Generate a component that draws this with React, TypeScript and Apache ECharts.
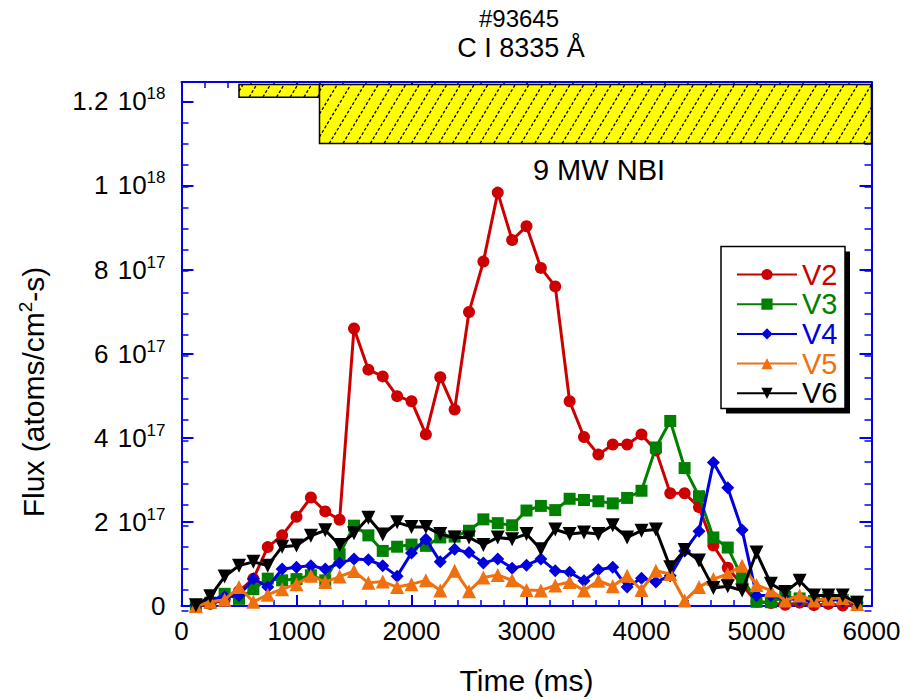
import React, { useEffect, useRef } from 'react';
import * as echarts from 'echarts';

// time of each sample (ms)
const times = [125, 250, 375, 500, 625, 750, 875, 1000, 1125, 1250, 1375, 1500, 1625, 1750, 1875, 2000,
  2125, 2250, 2375, 2500, 2625, 2750, 2875, 3000, 3125, 3250, 3375, 3500, 3625, 3750, 3875, 4000,
  4125, 4250, 4375, 4500, 4625, 4750, 4875, 5000, 5125, 5250, 5375, 5500, 5625, 5750, 5875];

// flux values in units of 1e17 atoms/cm2-s
const v2 = [0.0, 0.05, 0.15, 0.35, 0.65, 1.40, 1.68, 2.12, 2.58, 2.25, 2.05, 6.60, 5.62, 5.46, 4.99, 4.87,
  4.08, 5.44, 4.67, 6.99, 8.19, 9.83, 8.70, 9.03, 8.04, 7.60, 4.87, 4.02, 3.60, 3.84, 3.84, 4.08,
  3.70, 2.68, 2.68, 2.35, 1.44, 0.91, 0.50, 0.10, 0.07, 0.03, 0.08, 0.02, 0.05, 0.01, 0.03];
const v3 = [0.0, 0.08, 0.29, 0.17, 0.40, 0.65, 0.61, 0.64, 0.73, 0.61, 1.23, 1.91, 1.68, 1.31, 1.41, 1.46,
  1.43, 1.63, 1.65, 1.79, 2.06, 1.97, 1.92, 2.27, 2.38, 2.28, 2.55, 2.52, 2.49, 2.44, 2.57, 2.74,
  3.77, 4.40, 3.28, 2.61, 1.63, 1.39, 0.68, 0.10, 0.09, 0.22, 0.18, 0.12, 0.20, 0.14, 0.10];
const v4 = [0.03, 0.15, 0.22, 0.25, 0.65, 0.45, 0.88, 0.92, 0.96, 0.88, 1.02, 1.12, 1.10, 0.96, 0.71, 1.26,
  1.59, 1.05, 1.35, 1.27, 1.02, 1.12, 0.90, 0.97, 1.12, 0.84, 0.80, 0.60, 0.86, 0.92, 0.45, 0.66,
  0.57, 0.72, 1.31, 1.78, 3.41, 2.81, 1.81, 0.25, 0.25, 0.18, 0.15, 0.10, 0.17, 0.12, 0.08];
const v5 = [0.0, 0.10, 0.15, 0.45, 0.10, 0.27, 0.40, 0.52, 0.72, 0.57, 0.70, 0.83, 0.55, 0.58, 0.45, 0.52,
  0.61, 0.37, 0.84, 0.35, 0.68, 0.74, 0.61, 0.38, 0.37, 0.49, 0.57, 0.37, 0.60, 0.47, 0.72, 0.38,
  0.84, 0.76, 0.13, 0.45, 0.64, 0.76, 0.96, 0.50, 0.37, 0.13, 0.25, 0.13, 0.17, 0.19, 0.05];
const v6 = [0.02, 0.23, 0.70, 0.96, 1.05, 0.96, 1.41, 1.44, 1.67, 1.80, 1.45, 1.73, 2.10, 1.70, 1.99, 1.88,
  1.88, 1.71, 1.63, 1.63, 1.45, 1.63, 1.59, 1.71, 1.35, 1.82, 1.71, 1.75, 1.71, 1.92, 1.63, 1.79,
  1.82, 0.92, 1.33, 1.08, 0.43, 0.47, 0.37, 1.27, 0.53, 0.33, 0.60, 0.25, 0.25, 0.25, 0.08];

const seriesNames = ['V2', 'V3', 'V4', 'V5', 'V6'];
const seriesValues = [v2, v3, v4, v5, v6];

// NBI power bars (ms, and 1e17 units)
const nbiStart = [500, 1200];
const nbiEnd = [1200, 6000];
const nbiBottom = [12.1, 11.0];
const nbiTop = [12.4, 12.4];
const nbiLabel = '9 MW NBI';

const FONT = '"Liberation Sans", Arial, Helvetica, sans-serif';
const AXIS_BLUE = '#0000ee';
const colors = ['#cc0000', '#008000', '#0000dd', '#f07010', '#000000'];
const symbols = ['circle', 'rect', 'diamond', 'triangle', 'path://M0,0 L10,0 L5,9 Z'];
const symbolSizes = [12, 12, 13, 14, 14];

export default function App() {
  const ref = useRef<HTMLDivElement>(null);
  useEffect(() => {
    document.body.style.margin = '0';
    const chart = echarts.init(ref.current!, null, { renderer: 'svg' });
    const gridRect = { left: 181.5, right: 48.5, top: 82, bottom: 89.3 };
    const yMax = 12.46;

    const xAxisCfg = (pos: 'bottom' | 'top', labels: boolean): any => ({
      type: 'value', gridIndex: 0, position: pos, min: 0, max: 6000, interval: 1000,
      axisLine: { show: true, onZero: false, lineStyle: { color: AXIS_BLUE, width: 2 } },
      axisTick: { show: true, inside: true, length: 11, lineStyle: { color: AXIS_BLUE, width: 2 } },
      minorTick: { show: true, splitNumber: 5, length: 6, lineStyle: { color: AXIS_BLUE, width: 1.5 } },
      splitLine: { show: false },
      axisLabel: labels
        ? { show: true, fontSize: 26, color: '#000', fontFamily: FONT, margin: 12, formatter: (v: number) => String(v) }
        : { show: false },
      ...(labels ? {
        name: 'Time (ms)', nameLocation: 'middle', nameGap: 59,
        nameTextStyle: { fontSize: 30, color: '#000', fontFamily: FONT },
      } : {}),
    });

    const yMajor = (pos: 'left' | 'right', labels: boolean): any => ({
      type: 'value', gridIndex: 0, position: pos, min: 0, max: yMax, interval: 2,
      axisLine: { show: true, onZero: false, lineStyle: { color: AXIS_BLUE, width: 2 } },
      axisTick: { show: true, inside: true, length: 12, lineStyle: { color: AXIS_BLUE, width: 2 } },
      splitLine: { show: false },
      axisLabel: labels ? {
        show: true, margin: 16, fontFamily: FONT,
        formatter: (v: number) => {
          if (Math.abs(v - Math.round(v / 2) * 2) > 1e-6) return '';
          if (Math.abs(v) < 1e-9) return '{b|0}';
          if (v >= 10 - 1e-9) return `{m|${+(v / 10).toFixed(1)} }{b|10}{s|18}`;
          return `{m|${Math.round(v)} }{b|10}{s|17}`;
        },
        rich: {
          m: { fontSize: 26, color: '#000', fontFamily: FONT, lineHeight: 32, padding: [0, 2, 0, 0] },
          b: { fontSize: 26, color: '#000', fontFamily: FONT, lineHeight: 32 },
          s: { fontSize: 17, color: '#000', fontFamily: FONT, lineHeight: 17, verticalAlign: 'top' },
        },
      } : { show: false },
    });

    const yMinor = (pos: 'left' | 'right'): any => ({
      type: 'value', gridIndex: 1, position: pos, min: 0, max: yMax, interval: 0.5,
      axisLine: { show: false, onZero: false },
      axisTick: { show: true, inside: true, length: 7, lineStyle: { color: AXIS_BLUE, width: 1.5 } },
      splitLine: { show: false }, axisLabel: { show: false },
    });

    const nbiData = nbiStart.map((s, i) => [s, nbiEnd[i], nbiBottom[i], nbiTop[i]]);

    const lineSeries = seriesNames.map((name, i) => ({
      name, type: 'line', xAxisIndex: 0, yAxisIndex: 0,
      data: times.map((t, j) => [t, seriesValues[i][j]]),
      symbol: symbols[i], symbolSize: symbolSizes[i], showSymbol: true,
      lineStyle: { color: colors[i], width: 3 },
      itemStyle: { color: colors[i] },
      z: 3 + i,
    }));

    const option: any = {
      animation: false,
      backgroundColor: '#fff',
      textStyle: { fontFamily: FONT },
      grid: [
        { ...gridRect, containLabel: false },
        { ...gridRect, containLabel: false },
      ],
      xAxis: [
        xAxisCfg('bottom', true),
        xAxisCfg('top', false),
        { type: 'value', gridIndex: 1, min: 0, max: 6000, show: false, axisLine: { onZero: false } },
      ],
      yAxis: [
        yMajor('left', true),
        yMajor('right', false),
        yMinor('left'),
        yMinor('right'),
      ],
      legend: {
        show: true, orient: 'vertical', left: 731, top: 255, z: 20,
        itemWidth: 60, itemHeight: 14, itemGap: 0.7,
        textStyle: { fontSize: 29, fontFamily: FONT, lineHeight: 28 },
        data: seriesNames.map((n, i) => ({ name: n, textStyle: { color: colors[i] } })),
      },
      graphic: [
        { type: 'rect', z: 10, shape: { x: 726, y: 251.5, width: 124, height: 162 }, style: { fill: '#000' } },
        { type: 'rect', z: 11, shape: { x: 721, y: 246.5, width: 124, height: 162 }, style: { fill: '#fff', stroke: '#000', lineWidth: 1.5 } },
        { type: 'text', x: 519, y: 18, z: 5, style: { text: '#93645', fontSize: 24, fontFamily: FONT, fill: '#000', align: 'center', verticalAlign: 'middle' } },
        { type: 'text', x: 521, y: 48, z: 5, style: { text: 'C I 8335 Å', fontSize: 27, fontFamily: FONT, fill: '#000', align: 'center', verticalAlign: 'middle' } },
        { type: 'text', x: 599, y: 170, z: 5, style: { text: nbiLabel, fontSize: 29, fontFamily: FONT, fill: '#000', align: 'center', verticalAlign: 'middle' } },
        {
          type: 'text', x: 33, y: 392, rotation: Math.PI / 2, z: 5,
          style: {
            text: '{a|Flux (atoms/cm}{s|2}{a|-s)}', align: 'center', verticalAlign: 'middle',
            rich: {
              a: { fontSize: 30, fontFamily: FONT, fill: '#000', lineHeight: 34 },
              s: { fontSize: 19, fontFamily: FONT, fill: '#000', lineHeight: 19, verticalAlign: 'top' },
            },
          },
        },
      ],
      series: [
        {
          type: 'custom', name: 'NBI', xAxisIndex: 0, yAxisIndex: 0, z: 1,
          encode: { x: [0, 1], y: [2, 3] },
          data: nbiData,
          renderItem: (params: any, api: any) => {
            const p0 = api.coord([api.value(0), api.value(3)]);
            const p1 = api.coord([api.value(1), api.value(2)]);
            const x0 = p0[0], y0 = p0[1], x1 = p1[0], y1 = p1[1];
            const h = y1 - y0;
            const k = 0.6;
            const step = 13.7;
            const children: any[] = [
              { type: 'rect', shape: { x: x0, y: y0, width: x1 - x0, height: h }, style: { fill: '#ffff00' } },
            ];
            for (let c = x0 - k * h + 4; c < x1; c += step) {
              const sMin = Math.max(0, (x0 - c) / (k * h));
              const sMax = Math.min(1, (x1 - c) / (k * h));
              if (sMax <= sMin) continue;
              children.push({
                type: 'line',
                shape: { x1: c + k * h * sMin, y1: y1 - h * sMin, x2: c + k * h * sMax, y2: y1 - h * sMax },
                style: { stroke: '#000', lineWidth: 1.3, lineDash: [3, 2] },
              });
            }
            children.push({ type: 'rect', shape: { x: x0, y: y0, width: x1 - x0, height: h }, style: { fill: 'none', stroke: '#000', lineWidth: 1.5 } });
            return { type: 'group', children };
          },
        },
        ...lineSeries,
      ],
    };
    chart.setOption(option);
    return () => chart.dispose();
  }, []);
  return <div ref={ref} style={{ width: 920, height: 700 }} />;
}
